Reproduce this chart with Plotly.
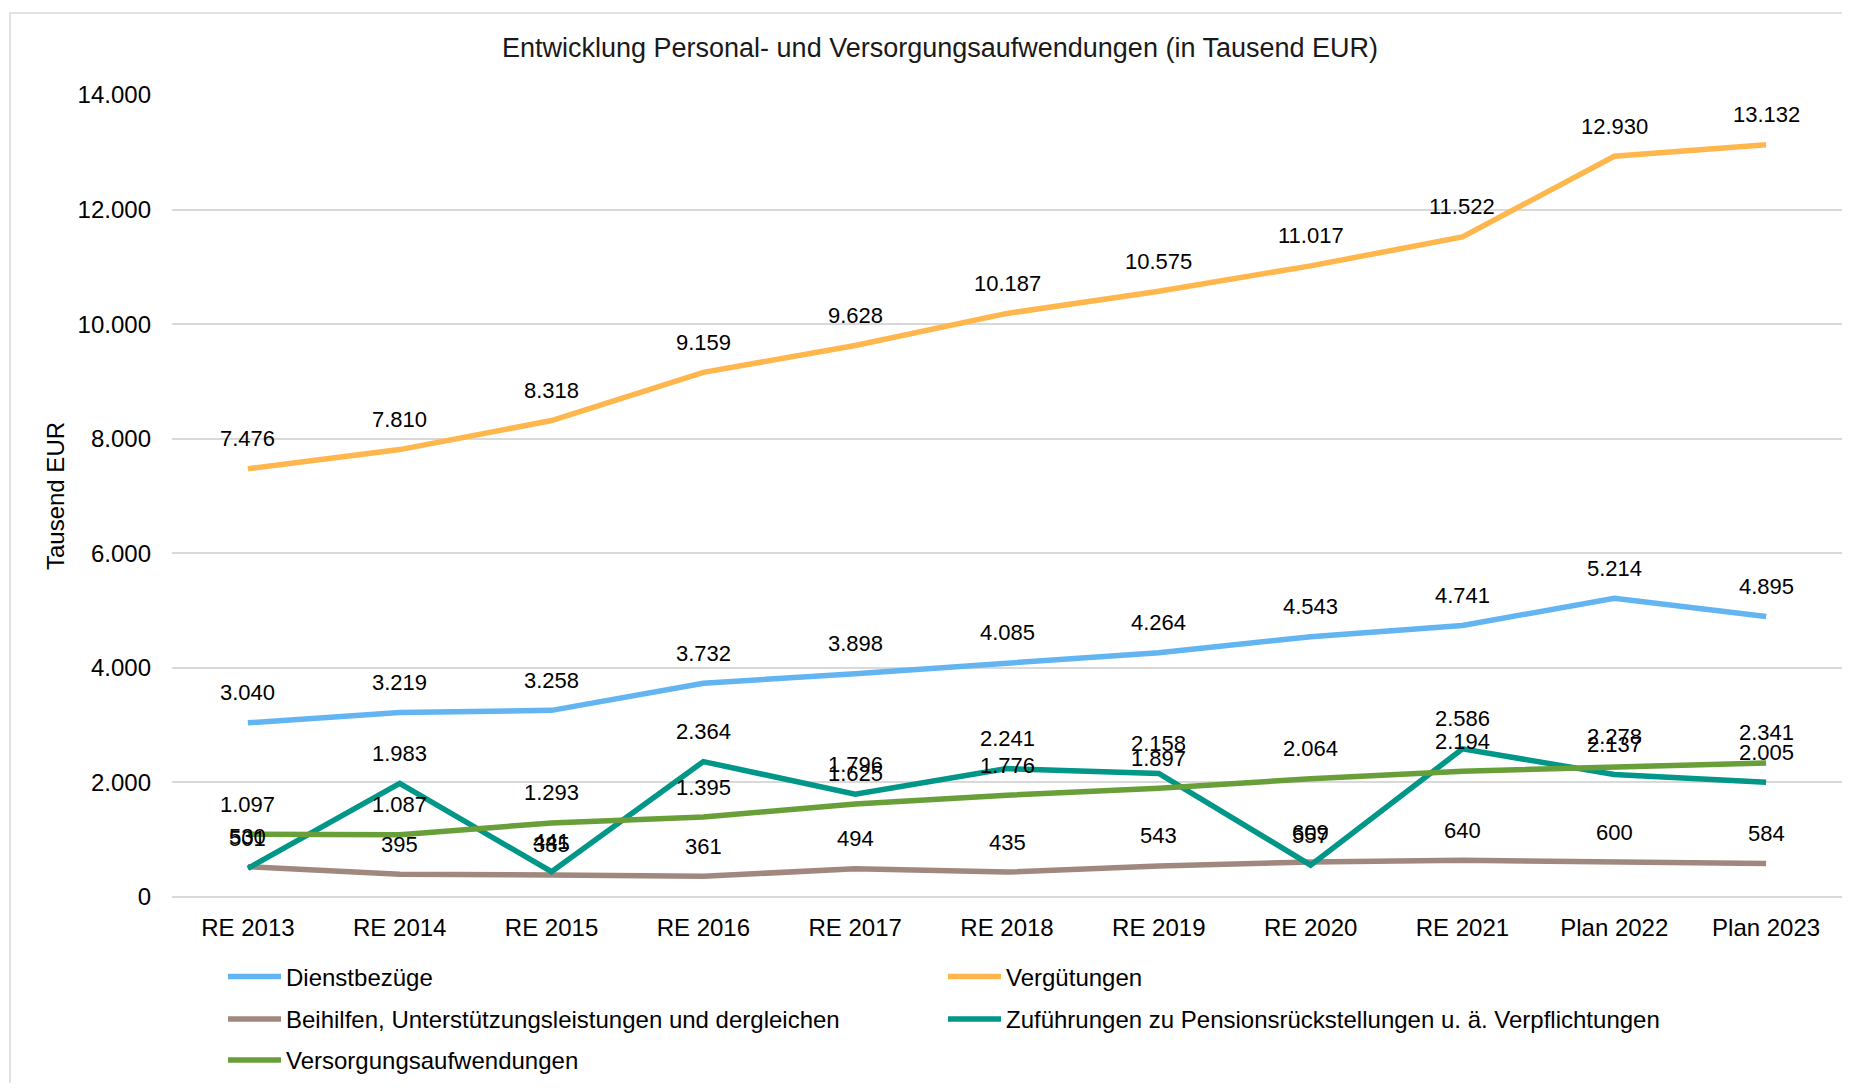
import plotly.graph_objects as go

categories = ["RE 2013", "RE 2014", "RE 2015", "RE 2016", "RE 2017", "RE 2018",
              "RE 2019", "RE 2020", "RE 2021", "Plan 2022", "Plan 2023"]
dienstbezuege = [3040, 3219, 3258, 3732, 3898, 4085, 4264, 4543, 4741, 5214, 4895]
verguetungen = [7476, 7810, 8318, 9159, 9628, 10187, 10575, 11017, 11522, 12930, 13132]
beihilfen = [530, 395, 385, 361, 494, 435, 543, 609, 640, 600, 584]
zufuehrungen = [501, 1983, 441, 2364, 1796, 2241, 2158, 557, 2586, 2137, 2005]
versorgung = [1097, 1087, 1293, 1395, 1625, 1776, 1897, 2064, 2194, 2278, 2341]
y_ticks = [0, 2000, 4000, 6000, 8000, 10000, 12000, 14000]

series = [
    ("Dienstbezüge", dienstbezuege, "#62B5F0"),
    ("Vergütungen", verguetungen, "#FFB74D"),
    ("Beihilfen, Unterstützungsleistungen und dergleichen", beihilfen, "#A1887F"),
    ("Zuführungen zu Pensionsrückstellungen u. ä. Verpflichtungen", zufuehrungen, "#009688"),
    ("Versorgungsaufwendungen", versorgung, "#689F38"),
]

FONT = "Liberation Sans, Arial, sans-serif"

def fmt(v):
    return f"{v:,}".replace(",", ".")

# page offset of the browser body margin
OFF = 8
W, H = 1850 - 2 * OFF, 1091 - 2 * OFF
# plot area in page pixels
PX0, PX1, PY0, PY1 = 172, 1842, 95, 906
L, R, T, B = PX0 - OFF, (1850 - OFF) - PX1, PY0 - OFF, (1091 - OFF) - PY1
pw, ph = W - L - R, H - T - B

def px(x):  # page x -> paper
    return (x - OFF - L) / pw

def py(y):  # page y -> paper
    return (H - B - (y - OFF)) / ph

# legend entry positions (page px of line start, row top)
legend_pos = [(223, 964), (943, 964), (223, 1007), (943, 1007), (223, 1049)]
legend_names = ["legend", "legend2", "legend3", "legend4", "legend5"]

fig = go.Figure()
annotations = []
for i, (name, vals, color) in enumerate(series):
    fig.add_trace(go.Scatter(x=categories, y=vals, mode="lines", name=name,
                             legend=legend_names[i],
                             line=dict(color=color, width=5.5), hoverinfo="x+y"))
    for c, v in zip(categories, vals):
        annotations.append(dict(x=c, y=v, text=fmt(v), showarrow=False,
                                yshift=30, font=dict(family=FONT, size=22, color="#000000")))

legends = {}
for i, (lx, ly) in enumerate(legend_pos):
    legends[legend_names[i]] = dict(orientation="h", x=px(lx), xanchor="left",
                                    y=py(ly), yanchor="top", itemwidth=53,
                                    font=dict(family=FONT, size=24, color="#000000"),
                                    bgcolor="rgba(0,0,0,0)")

fig.update_layout(
    width=W, height=H,
    margin=dict(l=L, r=R, t=T, b=B),
    paper_bgcolor="white", plot_bgcolor="white",
    font=dict(family=FONT, size=24, color="#000000"),
    title=dict(text="Entwicklung Personal- und Versorgungsaufwendungen (in Tausend EUR)",
               x=(940 - OFF) / W, xref="container", xanchor="center",
               y=1 - (48 - OFF) / H, yanchor="middle",
               font=dict(family=FONT, size=27, color="#1a1a1a")),
    xaxis=dict(type="category", range=[-0.5, 10.5], showgrid=False, showline=False,
               ticks="", ticklabelstandoff=14,
               tickfont=dict(family=FONT, size=24, color="#000000"),
               zeroline=False),
    yaxis=dict(range=[0, 14000], tickvals=y_ticks,
               ticktext=[fmt(v) for v in y_ticks],
               showgrid=True, gridcolor="#D9D9D9", gridwidth=1.5, zeroline=True,
               zerolinecolor="#D9D9D9", zerolinewidth=1.5, showline=False, ticks="",
               ticklabelstandoff=20,
               tickfont=dict(family=FONT, size=24, color="#000000"),
               title=dict(text="Tausend EUR", standoff=6,
                          font=dict(family=FONT, size=24, color="#000000"))),
    annotations=annotations,
    shapes=[dict(type="rect", xref="paper", yref="paper",
                 x0=px(10), x1=px(1860), y0=py(1100), y1=py(12),
                 line=dict(color="#D9D9D9", width=1.5), fillcolor="rgba(0,0,0,0)", layer="below")],
    showlegend=True,
    **legends,
)

fig.write_html("out.html")
